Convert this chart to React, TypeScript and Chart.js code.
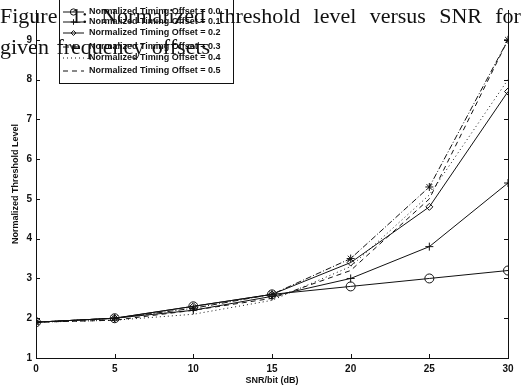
import React, { useEffect, useRef } from "react";
import { Chart, registerables } from "chart.js";

Chart.register(...registerables);

const snr = [0, 5, 10, 15, 20, 25, 30];
const offset00 = [1.9, 2.0, 2.3, 2.6, 2.8, 3.0, 3.2];
const offset01 = [1.9, 2.0, 2.2, 2.55, 3.0, 3.8, 5.4];
const offset02 = [1.9, 2.0, 2.3, 2.6, 3.4, 4.8, 7.7];
const offset03 = [1.9, 2.0, 2.25, 2.6, 3.5, 5.3, 9.0];
const offset04 = [1.9, 1.95, 2.1, 2.45, 3.3, 5.1, 8.0];
const offset05 = [1.9, 1.95, 2.2, 2.5, 3.2, 5.0, 9.0];
const legendLabels = [
  "Normalized Timing Offset = 0.0",
  "Normalized Timing Offset = 0.1",
  "Normalized Timing Offset = 0.2",
  "Normalized Timing Offset = 0.3",
  "Normalized Timing Offset = 0.4",
  "Normalized Timing Offset = 0.5",
];
const xTicks = [0, 5, 10, 15, 20, 25, 30];
const yTicks = [1, 2, 3, 4, 5, 6, 7, 8, 9];
const captionLine1 = ["Figure", "1:", "Normalized", "threshold", "level", "versus", "SNR", "for"];
const captionLine2 = "given frequency offsets";

const INK = "#111";
const FONT = "'Liberation Sans', Arial, sans-serif";

const seriesStyles = [
  { data: offset00, dash: [], pointStyle: "circle", radius: 4.5 },
  { data: offset01, dash: [], pointStyle: "cross", radius: 4 },
  { data: offset02, dash: [], pointStyle: "rectRot", radius: 3.5 },
  { data: offset03, dash: [6, 2, 1, 2], pointStyle: "star", radius: 4 },
  { data: offset04, dash: [1, 3], pointStyle: "circle", radius: 0 },
  { data: offset05, dash: [5, 4], pointStyle: "circle", radius: 0 },
];

const legendRowsY = [12, 22, 33, 47, 58, 71];

function drawMarker(ctx: CanvasRenderingContext2D, style: string, r: number, x: number, y: number) {
  if (r <= 0) return;
  ctx.beginPath();
  if (style === "circle") {
    ctx.arc(x, y, r, 0, Math.PI * 2);
  } else if (style === "cross") {
    ctx.moveTo(x - r, y); ctx.lineTo(x + r, y);
    ctx.moveTo(x, y - r); ctx.lineTo(x, y + r);
  } else if (style === "rectRot") {
    ctx.moveTo(x, y - r); ctx.lineTo(x + r, y); ctx.lineTo(x, y + r); ctx.lineTo(x - r, y); ctx.closePath();
  } else if (style === "star") {
    ctx.moveTo(x - r, y); ctx.lineTo(x + r, y);
    ctx.moveTo(x, y - r); ctx.lineTo(x, y + r);
    const d = r * 0.707;
    ctx.moveTo(x - d, y - d); ctx.lineTo(x + d, y + d);
    ctx.moveTo(x - d, y + d); ctx.lineTo(x + d, y - d);
  }
  ctx.stroke();
}

const framePlugin = {
  id: "frame",
  afterDraw(chart: any) {
    const { ctx, chartArea, scales } = chart;
    const { left, right, top, bottom } = chartArea;
    ctx.save();
    ctx.strokeStyle = INK;
    ctx.lineWidth = 1;
    ctx.setLineDash([]);
    ctx.beginPath();
    ctx.moveTo(right + 0.5, top);
    ctx.lineTo(right + 0.5, bottom);
    ctx.stroke();
    const tl = 4;
    ctx.beginPath();
    for (const v of xTicks) {
      const px = Math.round(scales.x.getPixelForValue(v)) + 0.5;
      ctx.moveTo(px, bottom);
      ctx.lineTo(px, bottom - tl);
    }
    for (const v of yTicks) {
      const py = Math.round(scales.y.getPixelForValue(v)) + 0.5;
      ctx.moveTo(left, py);
      ctx.lineTo(left + tl, py);
      ctx.moveTo(right, py);
      ctx.lineTo(right - tl, py);
    }
    ctx.stroke();
    ctx.restore();
  },
};

const legendPlugin = {
  id: "customLegend",
  afterDatasetsDraw(chart: any) {
    const { ctx } = chart;
    const bx = 59.5, by = -5, bw = 174, bh = 88.5;
    ctx.save();
    ctx.fillStyle = "#fff";
    ctx.fillRect(bx, by, bw, bh);
    ctx.strokeStyle = INK;
    ctx.lineWidth = 1;
    ctx.strokeRect(bx, by, bw, bh);
    ctx.font = `bold 9px ${FONT}`;
    ctx.textBaseline = "middle";
    ctx.textAlign = "left";
    chart.data.datasets.forEach((ds: any, i: number) => {
      const y = legendRowsY[i];
      ctx.strokeStyle = INK;
      ctx.lineWidth = 1;
      ctx.setLineDash(ds.borderDash || []);
      ctx.beginPath();
      ctx.moveTo(63, y);
      ctx.lineTo(84, y);
      ctx.stroke();
      ctx.setLineDash([]);
      drawMarker(ctx, ds.pointStyle, ds.pointRadius * 0.7, 73.5, y);
      ctx.fillStyle = INK;
      ctx.fillText(legendLabels[i], 89, y);
    });
    ctx.restore();
  },
};

export default function App() {
  const canvasRef = useRef<HTMLCanvasElement>(null);

  useEffect(() => {
    if (!canvasRef.current) return;
    const chart = new Chart(canvasRef.current, {
      type: "line",
      data: {
        labels: snr,
        datasets: seriesStyles.map((s, i) => ({
          label: legendLabels[i],
          data: snr.map((x, j) => ({ x, y: s.data[j] })),
          borderColor: INK,
          backgroundColor: "rgba(0,0,0,0)",
          borderWidth: 1,
          borderDash: s.dash,
          pointStyle: s.pointStyle as any,
          pointRadius: s.radius,
          pointBorderColor: INK,
          pointBackgroundColor: "rgba(0,0,0,0)",
          pointBorderWidth: 1,
          tension: 0,
        })),
      },
      options: {
        animation: false,
        responsive: false,
        events: [],
        layout: { padding: { top: 0, right: 13, left: 0, bottom: 0 } },
        plugins: { legend: { display: false }, tooltip: { enabled: false }, title: { display: false } },
        scales: {
          x: {
            type: "linear",
            min: 0,
            max: 30,
            afterFit: (s: any) => { s.height = 31; },
            afterBuildTicks: (s: any) => { s.ticks = xTicks.map((v) => ({ value: v })); },
            grid: { display: false, drawTicks: false },
            border: { display: true, color: INK, width: 1 },
            ticks: { color: INK, padding: 5, font: { family: FONT, size: 10, weight: "bold" } },
            title: { display: true, text: "SNR/bit (dB)", color: INK, padding: { top: 0, bottom: 3 }, font: { family: FONT, size: 9, weight: "bold" } },
          },
          y: {
            type: "linear",
            min: 1,
            max: 9.75,
            afterFit: (s: any) => { s.width = 36; },
            afterBuildTicks: (s: any) => { s.ticks = yTicks.map((v) => ({ value: v })); },
            grid: { display: false, drawTicks: false },
            border: { display: true, color: INK, width: 1 },
            ticks: { color: INK, padding: 4, font: { family: FONT, size: 10, weight: "bold" } },
            title: { display: true, text: "Normalized Threshold Level", color: INK, padding: { top: 10, bottom: 0 }, font: { family: FONT, size: 9, weight: "bold" } },
          },
        },
      },
      plugins: [legendPlugin, framePlugin],
    } as any);
    return () => chart.destroy();
  }, []);

  return (
    <div style={{ position: "fixed", left: 0, top: 0, width: 521, height: 389, background: "#fff", overflow: "hidden" }}>
      <canvas ref={canvasRef} width={521} height={389} style={{ position: "absolute", left: 0, top: 0, width: 521, height: 389 }} />
      <div
        style={{
          position: "absolute",
          left: 0,
          top: 0,
          width: 521,
          fontFamily: "'Liberation Serif', 'Times New Roman', serif",
          fontSize: 22,
          lineHeight: "31px",
          color: "#111",
          pointerEvents: "none",
        }}
      >
        <div style={{ display: "flex", justifyContent: "space-between", whiteSpace: "nowrap" }}>
          {captionLine1.map((w, i) => (
            <span key={i}>{w}</span>
          ))}
        </div>
        <div style={{ wordSpacing: 2, whiteSpace: "nowrap" }}>{captionLine2}</div>
      </div>
    </div>
  );
}
